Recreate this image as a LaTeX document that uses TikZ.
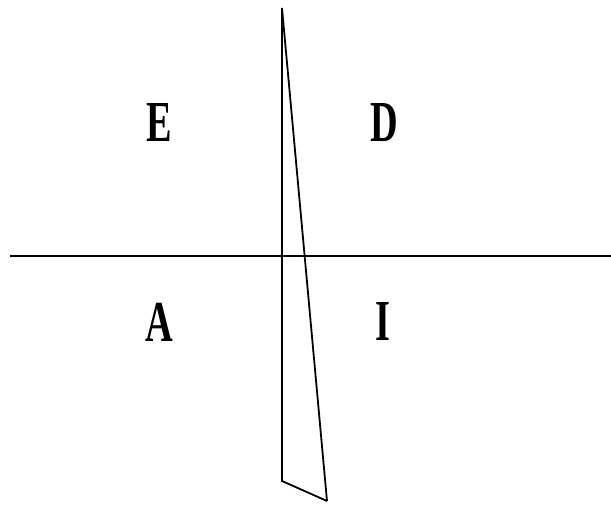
\documentclass[tikz,border=0pt]{standalone}
\usepackage{fontspec}
\setmainfont{Liberation Serif}
\begin{document}
\begin{tikzpicture}[x=1pt, y=-1pt, line width=1.8pt,
  quadlabel/.style={font=\fontsize{58}{60}\selectfont\bfseries, xscale=0.66, inner sep=0pt}]

% Frame
\useasboundingbox (0,0) rectangle (611,504);

% Axis
\coordinate (west) at (10,256);
\coordinate (east) at (611,256);
\draw (west) -- (east);

% Thin wedge
\coordinate (apex) at (282,8);
\coordinate (foot) at (282,481);
\coordinate (tip) at (327,501);
\draw[line join=miter] (tip) -- (apex) -- (foot) -- (tip);

% Quadrant letters
\node[quadlabel] (E) at (159,123) {E};
\node[quadlabel] (D) at (384,123) {D};
\node[quadlabel] (A) at (159,322) {A};
\node[quadlabel] (I) at (383,322) {I};

\end{tikzpicture}
\end{document}
